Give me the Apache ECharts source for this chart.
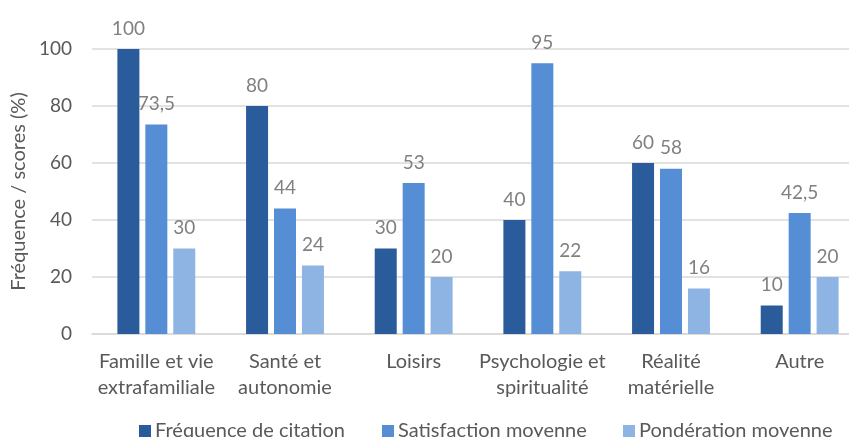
<!DOCTYPE html>
<html><head><meta charset="utf-8">
<script src="https://cdn.jsdelivr.net/npm/echarts@6/dist/echarts.min.js"></script>
<style>html,body{margin:0;padding:0;background:#fff;overflow:hidden;width:849px;height:437px}#c{width:864px;height:437px}</style>
</head><body><div id="c"></div>
<script>
const categories = ["Famille et vie\nextrafamiliale", "Santé et\nautonomie", "Loisirs", "Psychologie et\nspiritualité", "Réalité\nmatérielle", "Autre"];
const frequence = [100, 80, 30, 40, 60, 10];
const satisfaction = [73.5, 44, 53, 95, 58, 42.5];
const ponderation = [30, 24, 20, 22, 16, 20];
const seriesNames = ["Fréquence de citation", "Satisfaction moyenne", "Pondération moyenne"];
const colors = ["#2a5b9a", "#558ed5", "#8eb4e3"];
const yTicks = [0, 20, 40, 60, 80, 100];

const font = "Lato";
const fs = 20, fsNum = 19;
const chart = echarts.init(document.getElementById('c'));
const lbl = {
  show: true, position: 'top', distance: 11, color: '#808080', fontSize: fsNum, fontFamily: font,
  formatter: p => String(p.value).replace('.', ',')
};
const mk = (name, data, color) => ({
  name, type: 'bar', data, barWidth: 22, barGap: '27%',
  itemStyle: { color }, label: lbl
});
const legendLefts = [139, 382, 623];
chart.setOption({
  animation: false,
  textStyle: { fontFamily: font },
  legend: seriesNames.map((n, i) => ({
    data: [n], left: legendLefts[i], top: 421, itemWidth: 12, itemHeight: 12,
    icon: 'rect', padding: 0,
    textStyle: { color: '#595959', fontSize: fs, fontFamily: font, padding: [0, 0, 0, -1] }
  })),
  grid: { left: 92, right: 0, top: 49, bottom: 103, containLabel: false, outerBoundsMode: 'none' },
  xAxis: {
    type: 'category', data: categories,
    axisLine: { lineStyle: { color: '#d9d9d9', width: 1.5 } },
    axisTick: { show: false },
    axisLabel: { color: '#595959', fontSize: fs, fontFamily: font, lineHeight: 26, margin: 15, interval: 0 }
  },
  yAxis: {
    type: 'value', min: yTicks[0], max: yTicks[yTicks.length - 1], interval: 20,
    name: 'Fréquence / scores (%)', nameLocation: 'middle', nameGap: 63, nameRotate: 90,
    nameMoveOverlap: false,
    nameTextStyle: { color: '#595959', fontSize: fs, fontFamily: font },
    axisLabel: { color: '#595959', fontSize: fsNum, fontFamily: font, margin: 20 },
    splitLine: { lineStyle: { color: '#d9d9d9', width: 1.5 } },
    axisLine: { show: false }, axisTick: { show: false }
  },
  series: [mk(seriesNames[0], frequence, colors[0]), mk(seriesNames[1], satisfaction, colors[1]), mk(seriesNames[2], ponderation, colors[2])]
});
</script></body></html>
